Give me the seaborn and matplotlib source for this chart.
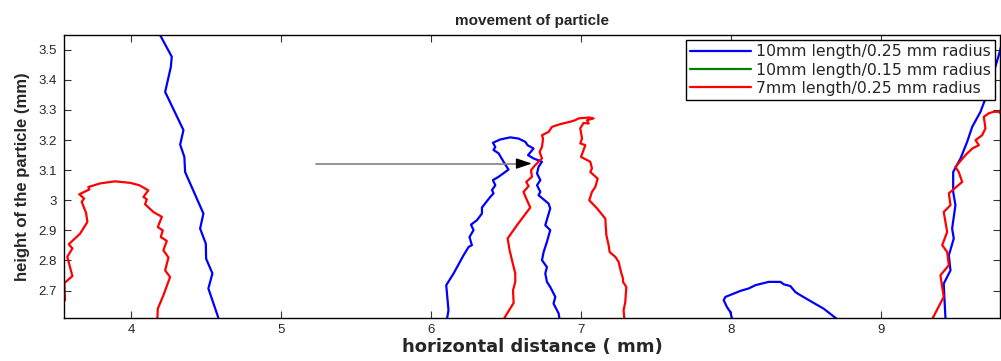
import numpy as np
import pandas as pd
import matplotlib
matplotlib.use("Agg")
import matplotlib.pyplot as plt
from matplotlib.lines import Line2D
from matplotlib.ticker import FormatStrFormatter
import seaborn as sns

# ---- data ----
series_names = ["10mm length/0.25 mm radius", "10mm length/0.15 mm radius", "7mm length/0.25 mm radius"]
series_colors = ["#0000ff", "#008000", "#ff0000"]

blue1_x = [4.193, 4.271, 4.265, 4.227, 4.349, 4.327, 4.355, 4.36, 4.482, 4.46, 4.498, 4.5, 4.542, 4.515, 4.582]
blue1_y = [3.549, 3.477, 3.443, 3.360, 3.233, 3.185, 3.144, 3.094, 2.956, 2.906, 2.856, 2.806, 2.757, 2.707, 2.609]

blue2_x = [6.105, 6.115, 6.10, 6.149, 6.215, 6.249, 6.271, 6.255, 6.282, 6.265, 6.305, 6.338, 6.338, 6.393, 6.415,
           6.405, 6.427, 6.411, 6.449, 6.515, 6.482, 6.449, 6.415, 6.427, 6.411, 6.46, 6.527, 6.582, 6.627, 6.642,
           6.682, 6.645, 6.682, 6.738, 6.715, 6.705, 6.727, 6.705, 6.727, 6.715, 6.782, 6.793, 6.76, 6.793, 6.771,
           6.749, 6.738, 6.771, 6.76, 6.771, 6.793, 6.827, 6.815, 6.849, 6.855]
blue2_y = [2.605, 2.635, 2.718, 2.757, 2.817, 2.845, 2.851, 2.878, 2.901, 2.919, 2.934, 2.956, 2.976, 3.011, 3.023,
           3.034, 3.050, 3.067, 3.078, 3.102, 3.128, 3.156, 3.167, 3.177, 3.191, 3.202, 3.209, 3.205, 3.194, 3.183,
           3.172, 3.150, 3.139, 3.128, 3.111, 3.089, 3.067, 3.050, 3.028, 3.017, 2.989, 2.973, 2.917, 2.901, 2.862,
           2.828, 2.801, 2.778, 2.757, 2.729, 2.712, 2.679, 2.657, 2.624, 2.605]

blue3_x = [8.005, 7.993, 7.971, 7.949, 7.96, 8.005, 8.06, 8.115, 8.16, 8.249, 8.327, 8.349, 8.393, 8.427, 8.449,
           8.538, 8.615, 8.705]
blue3_y = [2.605, 2.629, 2.645, 2.668, 2.679, 2.688, 2.699, 2.707, 2.718, 2.729, 2.729, 2.721, 2.715, 2.695, 2.688,
           2.662, 2.640, 2.605]

blue4_x = [9.427, 9.42, 9.415, 9.46, 9.449, 9.482, 9.471, 9.493, 9.478, 9.478, 9.527, 9.571, 9.605, 9.66, 9.693,
           9.733, 9.782, 9.80]
blue4_y = [2.605, 2.673, 2.723, 2.767, 2.817, 2.873, 2.906, 2.984, 3.028, 3.094, 3.139, 3.194, 3.244, 3.294, 3.338,
           3.399, 3.482, 3.516]

green_x = []
green_y = []

red1_x = [3.56, 3.555, 3.609, 3.575, 3.609, 3.585, 3.66, 3.709, 3.70, 3.671, 3.687, 3.655, 3.722, 3.715, 3.793,
          3.893, 3.993, 4.055, 4.115, 4.082, 4.105, 4.093, 4.149, 4.205, 4.178, 4.211, 4.198, 4.238, 4.215, 4.249,
          4.227, 4.26, 4.215, 4.178, 4.175]
red1_y = [2.668, 2.725, 2.748, 2.812, 2.840, 2.854, 2.889, 2.928, 2.958, 2.995, 3.006, 3.020, 3.036, 3.044, 3.056,
          3.063, 3.058, 3.050, 3.033, 3.011, 3.003, 2.987, 2.961, 2.945, 2.911, 2.900, 2.878, 2.865, 2.834, 2.810,
          2.767, 2.745, 2.684, 2.640, 2.605]

red2_x = [6.482, 6.549, 6.545, 6.56, 6.56, 6.538, 6.522, 6.509, 6.571, 6.66, 6.633, 6.615, 6.649, 6.633, 6.671,
          6.665, 6.693, 6.738, 6.722, 6.738, 6.745, 6.738, 6.782, 6.805, 6.86, 6.927, 6.96, 6.982, 7.049, 7.082,
          7.038, 7.049, 7.015, 6.993, 7.005, 6.993, 7.027, 6.998, 7.06, 7.071, 7.06, 7.109, 7.093, 7.071, 7.053,
          7.105, 7.16, 7.167, 7.182, 7.189, 7.227, 7.249, 7.267, 7.278, 7.278, 7.30, 7.293, 7.282, 7.287]
red2_y = [2.605, 2.659, 2.701, 2.729, 2.757, 2.801, 2.835, 2.873, 2.917, 2.976, 3.006, 3.028, 3.047, 3.061, 3.078,
          3.100, 3.117, 3.139, 3.161, 3.177, 3.205, 3.216, 3.227, 3.244, 3.253, 3.261, 3.266, 3.272, 3.275, 3.272,
          3.266, 3.255, 3.257, 3.239, 3.205, 3.189, 3.183, 3.144, 3.128, 3.106, 3.094, 3.072, 3.044, 3.028, 3.000,
          2.973, 2.939, 2.884, 2.851, 2.828, 2.812, 2.795, 2.757, 2.740, 2.729, 2.712, 2.662, 2.635, 2.605]

red3_x = [9.338, 9.415, 9.393, 9.449, 9.438, 9.405, 9.438, 9.415, 9.46, 9.449, 9.538, 9.515, 9.493, 9.56, 9.605,
          9.649, 9.627, 9.671, 9.693, 9.682, 9.715, 9.749, 9.782, 9.80]
red3_y = [2.605, 2.679, 2.751, 2.784, 2.828, 2.851, 2.895, 2.961, 2.984, 3.023, 3.061, 3.094, 3.111, 3.150, 3.172,
          3.183, 3.200, 3.216, 3.239, 3.277, 3.289, 3.294, 3.294, 3.286]

arrow_start = (5.233, 3.122)
arrow_tip = (6.671, 3.122)

x_ticks = [4, 5, 6, 7, 8, 9]
y_ticks = [2.7, 2.8, 2.9, 3.0, 3.1, 3.2, 3.3, 3.4, 3.5]

# ---- build long-form table ----
segments = [
    (series_names[0], "b1", blue1_x, blue1_y),
    (series_names[0], "b2", blue2_x, blue2_y),
    (series_names[0], "b3", blue3_x, blue3_y),
    (series_names[0], "b4", blue4_x, blue4_y),
    (series_names[1], "g1", green_x, green_y),
    (series_names[2], "r1", red1_x, red1_y),
    (series_names[2], "r2", red2_x, red2_y),
    (series_names[2], "r3", red3_x, red3_y),
]
rows = []
for name, seg, xs, ys in segments:
    for i, (xv, yv) in enumerate(zip(xs, ys)):
        rows.append({"series": name, "segment": seg, "order": i, "x": xv, "y": yv})
df = pd.DataFrame(rows)

sns.set_style("ticks")
plt.rcParams["font.family"] = ["Liberation Sans", "DejaVu Sans"]

fig = plt.figure(figsize=(10.01, 3.61), dpi=100)
ax = fig.add_axes([64 / 1001, 43 / 361, 936 / 1001, 283 / 361])

palette = dict(zip(series_names, series_colors))
sns.lineplot(data=df, x="x", y="y", hue="series", units="segment", estimator=None, sort=False,
             palette=palette, hue_order=series_names, linewidth=1.6, legend=False, ax=ax)

# arrow: gray shaft, black head
ax.plot([arrow_start[0], arrow_tip[0] - 0.08], [arrow_start[1], arrow_tip[1]], color="#808080", lw=1.2, zorder=3)
ax.annotate("", xy=arrow_tip, xytext=(arrow_tip[0] - 0.1, arrow_tip[1]),
            arrowprops=dict(arrowstyle="-|>,head_length=0.95,head_width=0.32", color="black", lw=1.0,
                            shrinkA=0, shrinkB=0), zorder=4)

ax.set_xlim(3.553, 9.79)
ax.set_ylim(2.609, 3.549)
ax.set_xticks(x_ticks)
ax.set_yticks(y_ticks)
ax.yaxis.set_major_formatter(FormatStrFormatter("%g"))
ax.tick_params(direction="in", length=5, width=0.8, color="#333333", labelsize=9.5,
               top=True, right=True, pad=5)
ax.tick_params(axis="x", pad=4)
for s in ax.spines.values():
    s.set_visible(True)
    s.set_linewidth(1.0)
    s.set_color("black")

ax.set_title("movement of particle", fontsize=11, fontweight="bold", pad=7)
ax.set_xlabel("horizontal distance ( mm)", fontsize=13, fontweight="bold", labelpad=2,
              family=["DejaVu Sans"])
ax.set_ylabel("height of the particle (mm)", fontsize=12, fontweight="bold", labelpad=6)

handles = [Line2D([0], [0], color=c, lw=1.6) for c in series_colors]
leg = ax.legend(handles, series_names, loc="upper right", frameon=True, fancybox=False,
                prop={"family": ["DejaVu Sans"], "size": 11.3},
                edgecolor="black", framealpha=1, handlelength=3.9, handletextpad=0.3,
                borderaxespad=0.35, borderpad=0.25, labelspacing=0.2)
leg.get_frame().set_linewidth(1.0)
leg.set_zorder(10)

fig.savefig("out.png", dpi=100)
